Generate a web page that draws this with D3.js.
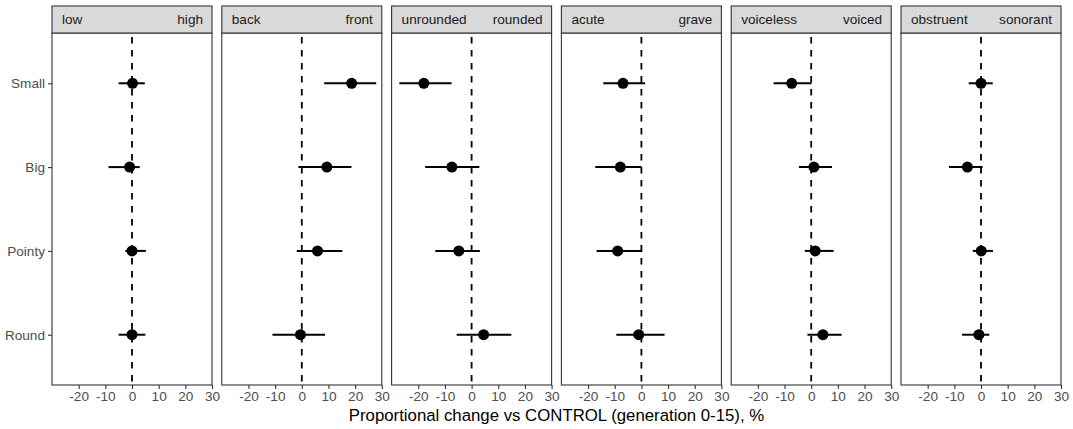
<!DOCTYPE html>
<html>
<head>
<meta charset="utf-8">
<script src="https://cdn.jsdelivr.net/npm/d3@7"></script>
<style>
  html, body { margin: 0; padding: 0; background: #fff; }
  svg { display: block; font-family: "Liberation Sans", Arial, sans-serif; }
</style>
</head>
<body>
<svg id="chart" width="1073" height="429"></svg>
<script>
// ---- data ----
const categories = ["Small", "Big", "Pointy", "Round"];
const panelLeftLabels  = ["low", "back", "unrounded", "acute", "voiceless", "obstruent"];
const panelRightLabels = ["high", "front", "rounded", "grave", "voiced", "sonorant"];
const xTicks = [-20, -10, 0, 10, 20, 30];
const xTickLabels = ["-20", "-10", "0", "10", "20", "30"];
const xTitle = "Proportional change vs CONTROL (generation 0-15), %";

// estimates per panel, in category order (Small, Big, Pointy, Round)
const estLowHigh   = [0.2, -0.9, 0.0, 0.0];
const loLowHigh    = [-5.0, -8.8, -2.5, -5.0];
const hiLowHigh    = [4.8, 2.9, 5.2, 5.0];

const estBackFront = [18.7, 9.4, 5.9, -0.5];
const loBackFront  = [8.4, -1.3, -1.9, -11.0];
const hiBackFront  = [27.9, 18.6, 15.2, 8.7];

const estRounded   = [-17.9, -7.4, -4.8, 4.5];
const loRounded    = [-27.1, -17.4, -13.6, -5.6];
const hiRounded    = [-7.5, 2.9, 3.1, 14.9];

const estGrave     = [-6.9, -7.9, -8.9, -1.0];
const loGrave      = [-14.3, -17.3, -16.8, -9.4];
const hiGrave      = [1.4, 0.0, 0.3, 8.7];

const estVoiced    = [-7.3, 1.0, 1.5, 4.4];
const loVoiced     = [-14.1, -4.6, -2.4, -1.4];
const hiVoiced     = [0.1, 7.8, 8.4, 11.4];

const estSonorant  = [0.0, -5.1, 0.1, -0.8];
const loSonorant   = [-4.6, -12.0, -3.1, -7.1];
const hiSonorant   = [4.4, 0.6, 4.5, 3.1];

const panels = [
  {est: estLowHigh,   lo: loLowHigh,   hi: hiLowHigh},
  {est: estBackFront, lo: loBackFront, hi: hiBackFront},
  {est: estRounded,   lo: loRounded,   hi: hiRounded},
  {est: estGrave,     lo: loGrave,     hi: hiGrave},
  {est: estVoiced,    lo: loVoiced,    hi: hiVoiced},
  {est: estSonorant,  lo: loSonorant,  hi: hiSonorant}
].map((p, i) => ({...p, left: panelLeftLabels[i], right: panelRightLabels[i]}));

// ---- layout ----
const svg = d3.select("#chart");
const plotLeft = 52, plotRight = 1061;
const panelGap = 9.8;
const nP = panels.length;
const panelW = (plotRight - plotLeft - panelGap * (nP - 1)) / nP;
const stripTop = 6, stripBottom = 33, panelBottom = 385;
const axisColor = "#333333", textColor = "#4d4d4d";
const fs = 13.6;

const y = d3.scalePoint().domain(categories).range([stripBottom, panelBottom]).padding(0.6);

// y axis (only on first panel)
const yAxis = svg.append("g").attr("transform", `translate(${plotLeft},0)`)
  .call(d3.axisLeft(y).tickSize(4).tickPadding(3));
yAxis.select(".domain").remove();
yAxis.selectAll(".tick line").attr("stroke", axisColor).attr("stroke-width", 1.1);
yAxis.selectAll(".tick text").attr("fill", textColor).style("font-size", fs + "px")
  .style("font-family", "Liberation Sans, Arial, sans-serif");

panels.forEach((p, i) => {
  const x0 = plotLeft + i * (panelW + panelGap);
  const x = d3.scaleLinear().domain([-30, 30]).range([x0, x0 + panelW]);
  const g = svg.append("g");

  // panel background
  g.append("rect").attr("x", x0).attr("y", stripBottom).attr("width", panelW)
    .attr("height", panelBottom - stripBottom).attr("fill", "#fff");

  // zero line
  g.append("line").attr("x1", x(0)).attr("x2", x(0))
    .attr("y1", stripBottom).attr("y2", panelBottom)
    .attr("stroke", "#000").attr("stroke-width", 1.8)
    .attr("stroke-dasharray", "6.5,6.5").attr("stroke-dashoffset", -4);

  // error bars
  g.selectAll(".err").data(categories).join("line")
    .attr("x1", (c, k) => x(p.lo[k])).attr("x2", (c, k) => x(p.hi[k]))
    .attr("y1", c => y(c)).attr("y2", c => y(c))
    .attr("stroke", "#000").attr("stroke-width", 2);

  // points
  g.selectAll(".pt").data(categories).join("circle")
    .attr("cx", (c, k) => x(p.est[k])).attr("cy", c => y(c))
    .attr("r", 5.5).attr("fill", "#000");

  // panel border
  g.append("rect").attr("x", x0).attr("y", stripBottom).attr("width", panelW)
    .attr("height", panelBottom - stripBottom).attr("fill", "none")
    .attr("stroke", axisColor).attr("stroke-width", 1.1);

  // strip
  g.append("rect").attr("x", x0).attr("y", stripTop).attr("width", panelW)
    .attr("height", stripBottom - stripTop).attr("fill", "#d9d9d9")
    .attr("stroke", axisColor).attr("stroke-width", 1.1);
  g.append("text").attr("x", x0 + 10).attr("y", (stripTop + stripBottom) / 2)
    .attr("dy", "0.35em").attr("fill", "#1a1a1a").style("font-size", fs + "px")
    .text(p.left);
  g.append("text").attr("x", x0 + panelW - 9).attr("y", (stripTop + stripBottom) / 2)
    .attr("dy", "0.35em").attr("text-anchor", "end").attr("fill", "#1a1a1a")
    .style("font-size", fs + "px").text(p.right);

  // x axis
  const xa = svg.append("g").attr("transform", `translate(0,${panelBottom})`)
    .call(d3.axisBottom(x).tickValues(xTicks)
      .tickFormat((d, k) => xTickLabels[k]).tickSize(4).tickPadding(2));
  xa.select(".domain").remove();
  xa.selectAll(".tick line").attr("stroke", axisColor).attr("stroke-width", 1.1);
  xa.selectAll(".tick text").attr("fill", textColor).style("font-size", fs + "px")
    .style("font-family", "Liberation Sans, Arial, sans-serif");
});

// x title
svg.append("text").attr("x", (plotLeft + plotRight) / 2).attr("y", 415)
  .attr("dy", "0.35em").attr("text-anchor", "middle").attr("fill", "#000")
  .style("font-size", "16.8px").text(xTitle);
</script>
</body>
</html>
